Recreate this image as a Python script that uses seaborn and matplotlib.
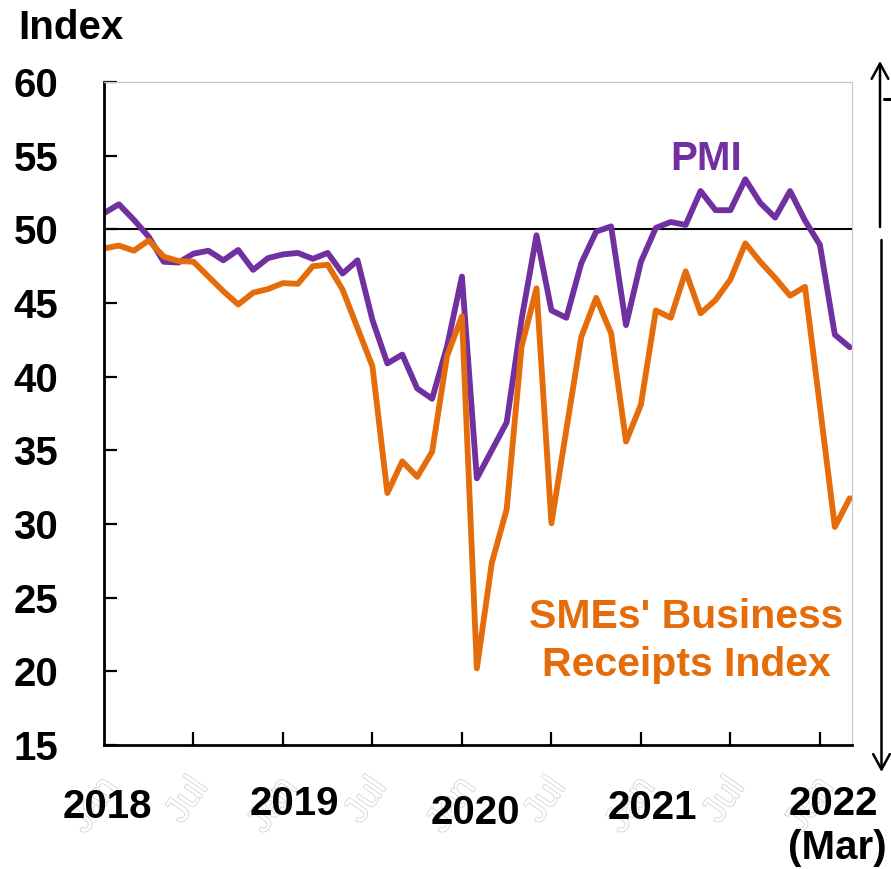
import pandas as pd
import numpy as np
import matplotlib
matplotlib.use("Agg")
import matplotlib.pyplot as plt
import matplotlib.patheffects as pe
from matplotlib.lines import Line2D
import seaborn as sns

# Monthly readings, Jan 2018 - Mar 2022
pmi = [51.1, 51.7, 50.65, 49.5, 47.8, 47.75, 48.35, 48.55, 47.9, 48.6, 47.25, 48.05,
       48.3, 48.4, 48.0, 48.4, 47.0, 47.9, 43.85, 40.9, 41.5, 39.2, 38.5, 42.05,
       46.8, 33.1, 35.0, 36.9, 43.9, 49.6, 44.5, 44.0, 47.7, 49.85, 50.2, 43.5,
       47.8, 50.1, 50.5, 50.3, 52.6, 51.3, 51.3, 53.4, 51.8, 50.8, 52.6, 50.6,
       48.95, 42.85, 42.0]
sme = [48.7, 48.9, 48.55, 49.25, 48.15, 47.85, 47.8, 46.8, 45.8, 44.9, 45.7, 45.95,
       46.35, 46.3, 47.5, 47.6, 45.9, 43.3, 40.7, 32.1, 34.25, 33.2, 34.9, 41.4,
       44.1, 20.2, 27.35, 31.0, 42.05, 46.0, 30.05, 36.4, 42.7, 45.35, 42.95, 35.6,
       38.1, 44.5, 44.0, 47.15, 44.3, 45.2, 46.6, 49.05, 47.8, 46.7, 45.5, 46.1,
       38.0, 29.8, 31.75]
months = list(range(len(pmi)))

year_labels = ["2018", "2019", "2020", "2021", "2022"]
year_pos = [0.26, 12.78, 24.9, 36.78, 48.9]
year_top = [-0.065, -0.060, -0.074, -0.066, -0.060]
half_ticks = [0, 6, 12, 18, 24, 30, 36, 42, 48]
half_names = ["Jan", "Jul"] * 4 + ["Jan"]
yticks = [15, 20, 25, 30, 35, 40, 45, 50, 55, 60]

purple = "#7030A0"
orange = "#E46C0A"

df = pd.DataFrame({
    "month": months * 2,
    "value": pmi + sme,
    "series": ["PMI"] * len(pmi) + ["SME"] * len(sme),
})

sns.set_style("white")
plt.rcParams["font.family"] = ["Liberation Sans", "DejaVu Sans"]
plt.rcParams["font.weight"] = "bold"
plt.rcParams["text.color"] = "black"
plt.rcParams["xtick.color"] = "black"
plt.rcParams["ytick.color"] = "black"

fig = plt.figure(figsize=(8.91, 8.69), dpi=100)
ax = fig.add_axes([0.1167, 0.1427, 0.9562 - 0.1167, 0.9056 - 0.1427])

sns.lineplot(data=df, x="month", y="value", hue="series",
             palette={"PMI": purple, "SME": orange}, hue_order=["PMI", "SME"],
             linewidth=4.2, legend=False, ax=ax)
ax.axhline(50, color="black", lw=1.5, zorder=1)

ax.set_xlim(0, 50.15)
ax.set_ylim(15, 60)
ax.set_xlabel("")
ax.set_ylabel("")
ax.set_xticks(half_ticks[1:])
ax.set_xticklabels([])
ax.set_yticks(yticks)
ax.set_yticklabels([str(v) for v in yticks], fontsize=29, fontweight="bold",
                   color="black")
ax.tick_params(axis="both", direction="in", length=9.5, width=1.6, color="black",
               bottom=True, left=True, top=False, right=False)
ax.tick_params(axis="y", pad=33)

for s in ["left", "bottom"]:
    ax.spines[s].set_color("black")
    ax.spines[s].set_linewidth(2.0)
for s in ["top", "right"]:
    ax.spines[s].set_color("#c8c8c8")
    ax.spines[s].set_linewidth(0.9)

xt = ax.get_xaxis_transform()
# faint ghost month labels
for m, name in zip(half_ticks, half_names):
    ax.text(m - 0.5, -0.04, name, transform=xt, rotation=55, rotation_mode="anchor",
            ha="right", va="top", fontsize=26, fontweight="normal", color="white",
            clip_on=False, zorder=1,
            path_effects=[pe.withStroke(linewidth=1.2, foreground="#d4d4d4")])

for lab, xp, yt in zip(year_labels, year_pos, year_top):
    ax.text(xp, yt, lab, transform=xt, ha="center", va="top", fontsize=29,
            fontweight="bold", color="black", clip_on=False, zorder=5)
ax.text(49.2, -0.1267, "(Mar)", transform=xt, ha="center", va="top", fontsize=29,
        fontweight="bold", color="black", clip_on=False, zorder=5)

ax.text(40.4, 54.05, "PMI", ha="center", va="baseline", fontsize=29,
        fontweight="bold", color=purple)
ax.text(39.05, 22.95, "SMEs' Business", ha="center", va="baseline", fontsize=29.5,
        fontweight="bold", color=orange)
ax.text(39.05, 19.65, "Receipts Index", ha="center", va="baseline", fontsize=29.5,
        fontweight="bold", color=orange)

fig.text(18 / 891, 1 - 9 / 869, "Index", ha="left", va="top", fontsize=29,
         fontweight="bold", color="black")

# right-hand arrows
arrow = dict(arrowstyle="->,head_length=1.1,head_width=0.6", lw=1.8, color="black",
             shrinkA=0, shrinkB=0)
ax.annotate("", xy=(880 / 891, 1 - 61 / 869), xytext=(880 / 891, 1 - 227 / 869),
            xycoords="figure fraction", textcoords="figure fraction",
            arrowprops=arrow, annotation_clip=False)
ax.annotate("", xy=(881.5 / 891, 1 - 772 / 869), xytext=(881.5 / 891, 1 - 240 / 869),
            xycoords="figure fraction", textcoords="figure fraction",
            arrowprops=arrow, annotation_clip=False)
fig.add_artist(Line2D([884 / 891, 1.0], [1 - 98.5 / 869, 1 - 98.5 / 869],
                      transform=fig.transFigure, color="black", lw=2.2))

fig.savefig("out.png", dpi=100)
